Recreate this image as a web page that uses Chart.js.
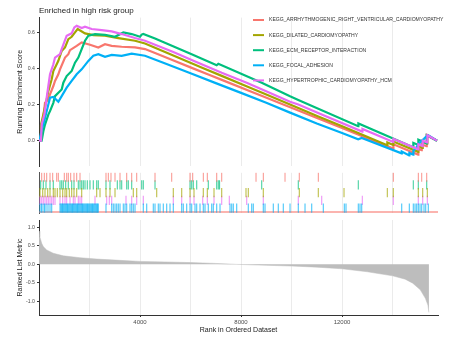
<!DOCTYPE html>
<html>
<head>
<meta charset="utf-8">
<title>Enriched in high risk group</title>
<script src="https://cdn.jsdelivr.net/npm/chart.js@4.4.1/dist/chart.umd.min.js"></script>
<style>
  html, body { margin: 0; padding: 0; background: #ffffff; }
  #wrap { position: relative; width: 449px; height: 341px; }
  canvas { position: absolute; left: 0; }
</style>
</head>
<body>
<div id="wrap">
  <canvas id="esChart" width="449" height="167" style="top:0px"></canvas>
  <canvas id="hitChart" width="449" height="52" style="top:167px"></canvas>
  <canvas id="metricChart" width="449" height="122" style="top:219px"></canvas>
</div>
<script>
const rankMax = 15800;
const gridRanks = [2000, 4000, 6000, 8000, 10000, 12000, 14000];
const esTicks = [0, 0.2, 0.4, 0.6];
const metricTicks = [-1, -0.5, 0, 0.5, 1];

const geneSets = [
  'KEGG_ARRHYTHMOGENIC_RIGHT_VENTRICULAR_CARDIOMYOPATHY',
  'KEGG_DILATED_CARDIOMYOPATHY',
  'KEGG_ECM_RECEPTOR_INTERACTION',
  'KEGG_FOCAL_ADHESION',
  'KEGG_HYPERTROPHIC_CARDIOMYOPATHY_HCM'
];
const setColors = ['#F8766D', '#A3A500', '#00BF7D', '#00B0F6', '#E76BF3'];
// row of each gene set in the hit strip (top to bottom)
const hitRows = [0, 2, 1, 4, 3];

// running enrichment score, [rank, score]
const esArvc = [[0, 0], [40, 0], [106, 0.052], [172, 0.126], [238, 0.209], [370, 0.228], [436, 0.256], [568, 0.302], [634, 0.33], [766, 0.367], [832, 0.394], [1030, 0.459], [1162, 0.478], [1228, 0.5], [1492, 0.524], [1690, 0.543], [2020, 0.53], [2350, 0.515], [2614, 0.533], [2878, 0.524], [3274, 0.519], [3802, 0.515], [4198, 0.506], [4594, 0.484], [5254, 0.447], [6000, 0.405], [6780, 0.362], [7240, 0.336], [8560, 0.262], [8910, 0.243], [9700, 0.198], [10270, 0.167], [11060, 0.122], [12000, 0.07], [13000, 0.014], [14028, -0.044], [14035, -0.02], [15015, -0.077], [15022, -0.045], [15150, -0.052], [15156, -0.02], [15348, -0.031], [15354, 0.03], [15760, 0]];
const esDcm = [[0, 0], [40, 0.015], [79, 0.089], [172, 0.144], [304, 0.228], [370, 0.274], [502, 0.339], [568, 0.385], [700, 0.422], [766, 0.441], [898, 0.496], [1030, 0.515], [1162, 0.561], [1294, 0.574], [1426, 0.598], [1531, 0.617], [1822, 0.593], [2152, 0.583], [2614, 0.58], [3142, 0.567], [3802, 0.552], [4198, 0.537], [5318, 0.47], [6506, 0.4], [7235, 0.358], [8288, 0.296], [8882, 0.262], [9941, 0.2], [11060, 0.134], [12078, 0.075], [13788, -0.025], [13795, -0.01], [14026, -0.024], [14034, -0.005], [15015, -0.062], [15021, -0.03], [15190, -0.04], [15196, -0.005], [15372, -0.015], [15380, 0.03], [15760, 0]];
const esEcm = [[0, 0], [106, 0], [172, 0.052], [238, 0.089], [370, 0.144], [436, 0.163], [568, 0.209], [634, 0.246], [898, 0.283], [964, 0.32], [1096, 0.357], [1294, 0.385], [1426, 0.431], [1558, 0.459], [1690, 0.506], [1822, 0.552], [1954, 0.58], [2218, 0.589], [2614, 0.585], [3010, 0.574], [3340, 0.598], [3670, 0.589], [4000, 0.574], [4067, 0.586], [4130, 0.59], [4594, 0.565], [6000, 0.48], [7037, 0.417], [7100, 0.425], [8819, 0.32], [9941, 0.245], [10268, 0.225], [12640, 0.08], [12648, 0.095], [14816, -0.036], [14824, -0.012], [15015, -0.024], [15022, 0.005], [15348, -0.015], [15355, 0.03], [15760, 0]];
const esFocal = [[0, 0], [40, 0.015], [106, 0.061], [172, 0.089], [304, 0.163], [436, 0.237], [568, 0.241], [766, 0.215], [898, 0.246], [1096, 0.293], [1294, 0.33], [1492, 0.367], [1690, 0.394], [1954, 0.441], [2152, 0.469], [2350, 0.478], [2614, 0.463], [2878, 0.474], [3274, 0.469], [3670, 0.481], [4198, 0.469], [5000, 0.426], [6000, 0.372], [7000, 0.318], [8000, 0.264], [9000, 0.21], [9941, 0.155], [11000, 0.095], [12000, 0.042], [12640, 0.008], [12780, 0.015], [14358, -0.07], [14366, -0.06], [14660, -0.082], [14668, -0.068], [14818, -0.077], [14826, -0.057], [14890, -0.045], [14957, -0.035], [15020, -0.02], [15088, -0.01], [15155, 0.0], [15246, 0.01], [15313, 0.02], [15416, 0.03], [15760, 0]];
const esHcm = [[0, 0], [79, 0], [106, 0.089], [211, 0.144], [304, 0.237], [370, 0.302], [436, 0.367], [568, 0.422], [634, 0.459], [832, 0.478], [898, 0.506], [1096, 0.58], [1294, 0.593], [1399, 0.626], [1492, 0.635], [1690, 0.622], [1822, 0.63], [2086, 0.617], [2482, 0.611], [2878, 0.604], [3274, 0.589], [3802, 0.567], [4198, 0.552], [5318, 0.49], [6138, 0.44], [7235, 0.375], [8225, 0.32], [8882, 0.28], [9941, 0.215], [10268, 0.2], [11195, 0.145], [12800, 0.05], [12808, 0.065], [14026, -0.007], [14034, 0.01], [15015, -0.048], [15021, -0.02], [15190, -0.03], [15196, 0.0], [15372, -0.01], [15380, 0.03], [15760, 0]];
const esSeries = [esArvc, esDcm, esEcm, esFocal, esHcm];

// ranks of the member genes of each set
const hitsArvc = [106, 211, 304, 436, 541, 700, 766, 1003, 1096, 1162, 1254, 1386, 1492, 1624, 2653, 2746, 2851, 3010, 3208, 3472, 3670, 3868, 4594, 5254, 5980, 6085, 6508, 6666, 7036, 7234, 8594, 8884, 9742, 10308, 11062, 14032, 15022, 15154, 15352];
const hitsDcm = [40, 147, 238, 345, 436, 566, 634, 725, 832, 939, 1030, 1097, 1200, 1295, 1386, 1493, 1691, 2285, 2416, 2653, 2812, 3010, 3734, 3869, 4661, 5318, 5651, 5980, 6138, 6506, 6665, 6930, 7235, 8197, 8288, 8882, 10308, 11060, 12078, 13793, 14030, 15020, 15194, 15377];
const hitsEcm = [67, 170, 277, 436, 566, 832, 899, 962, 1057, 1160, 1295, 1386, 1556, 1624, 1691, 1754, 1822, 1913, 2020, 2150, 2285, 2348, 2653, 2812, 3101, 3208, 3275, 3473, 3536, 3671, 4067, 4130, 4594, 5980, 6047, 6110, 6245, 6704, 7037, 7100, 7150, 8819, 10268, 12644, 14822, 15020, 15353];
const hitsFocal = [40, 99, 158, 218, 277, 356, 436, 503, 832, 866, 899, 930, 962, 996, 1030, 1063, 1097, 1128, 1160, 1194, 1228, 1262, 1295, 1326, 1358, 1392, 1426, 1460, 1493, 1524, 1556, 1590, 1624, 1658, 1691, 1722, 1754, 1788, 1822, 1856, 1889, 1920, 1952, 1986, 2020, 2054, 2087, 2118, 2150, 2184, 2218, 2252, 2285, 2316, 2348, 2653, 2879, 2942, 3010, 3077, 3140, 3208, 3338, 3406, 3473, 3604, 3671, 3734, 3802, 4130, 4265, 4526, 4594, 4724, 4792, 4922, 5057, 5188, 5318, 5651, 5714, 5849, 5980, 6047, 6178, 6245, 6376, 6506, 6574, 6704, 6839, 6902, 7037, 7168, 7564, 7631, 7694, 7829, 8288, 8423, 8486, 8882, 8950, 9278, 9476, 9674, 9940, 10268, 10534, 10799, 11258, 12090, 12157, 12644, 12712, 12779, 14363, 14664, 14822, 14890, 14957, 15020, 15088, 15155, 15246, 15313, 15416];
const hitsHcm = [40, 107, 170, 238, 305, 368, 436, 503, 566, 634, 832, 939, 1030, 1097, 1228, 1358, 1426, 1556, 1624, 1691, 2218, 2681, 2784, 2879, 3445, 3671, 3869, 4130, 5318, 5651, 5980, 6138, 6483, 6665, 6930, 7235, 7536, 8225, 8882, 10268, 11195, 12803, 14030, 15020, 15194, 15377];
const hitSeries = [hitsArvc, hitsDcm, hitsEcm, hitsFocal, hitsHcm];

// ranked list metric
const metricRank = [0, 30, 107, 170, 304, 566, 962, 1624, 2285, 3208, 4000, 5000, 6000, 7000, 7800, 9000, 10000, 11000, 12000, 13000, 14000, 14500, 14800, 15100, 15300, 15400, 15440];
const metricValue = [0.9, 0.75, 0.57, 0.48, 0.39, 0.3, 0.23, 0.18, 0.143, 0.108, 0.08, 0.065, 0.048, 0.025, 0, -0.025, -0.045, -0.075, -0.12, -0.2, -0.31, -0.4, -0.51, -0.69, -0.92, -1.1, -1.3];

Chart.defaults.font.family = '"Liberation Sans", Arial, Helvetica, sans-serif';
Chart.defaults.color = '#4d4d4d';

const AXIS_WIDTH = 39;

// keep every panel's plot area on the same left/right edges
function noLabelPadding(axis) {
  axis.paddingTop = 0;
  axis.paddingBottom = 0;
  axis.paddingLeft = 0;
  axis.paddingRight = 0;
}

function rankScale(height, showLabels) {
  return {
    type: 'linear',
    min: 0,
    max: rankMax,
    afterBuildTicks: (axis) => { axis.ticks = gridRanks.map(v => ({ value: v })); },
    afterFit: (axis) => { axis.height = height; noLabelPadding(axis); },
    grid: {
      color: '#ebebeb',
      lineWidth: 1,
      drawTicks: showLabels,
      tickLength: 2,
      tickColor: (c) => (c.tick && c.tick.value % 4000 === 0 ? '#333333' : 'rgba(0,0,0,0)')
    },
    border: { display: showLabels, color: '#333333', width: 1 },
    ticks: {
      display: showLabels,
      maxRotation: 0,
      autoSkip: false,
      padding: 2,
      font: { size: 6 },
      color: '#4d4d4d',
      callback: (v) => (v % 4000 === 0 ? String(v) : '')
    },
    title: {
      display: showLabels,
      text: 'Rank in Ordered Dataset',
      color: '#1a1a1a',
      font: { size: 7 },
      padding: { top: 0, bottom: 7 }
    }
  };
}

function valueScale(min, max, ticks, label) {
  return {
    min,
    max,
    afterBuildTicks: (axis) => { axis.ticks = ticks.map(v => ({ value: v })); },
    afterFit: (axis) => { axis.width = AXIS_WIDTH; noLabelPadding(axis); },
    grid: { drawOnChartArea: false, tickLength: 2, tickColor: '#333333' },
    border: { color: '#333333', width: 1 },
    ticks: { padding: 2, font: { size: 5.2 }, color: '#4d4d4d', callback: (v) => v.toFixed(1) },
    title: { display: true, text: label, color: '#1a1a1a', font: { size: 7 }, padding: { top: 16, bottom: 0 } }
  };
}

const setLegend = {
  id: 'setLegend',
  afterDraw(chart) {
    const ctx = chart.ctx;
    ctx.save();
    ctx.font = '5.1px "Liberation Sans", Arial, sans-serif';
    ctx.textBaseline = 'middle';
    chart.data.datasets.forEach((ds, i) => {
      const y = 20 + i * 15.1;
      ctx.strokeStyle = ds.borderColor;
      ctx.lineWidth = 2;
      ctx.beginPath();
      ctx.moveTo(253, y);
      ctx.lineTo(264, y);
      ctx.stroke();
      ctx.fillStyle = '#333333';
      ctx.fillText(ds.label, 269, y);
    });
    ctx.restore();
  }
};

const esChart = new Chart(document.getElementById('esChart'), {
  type: 'line',
  data: {
    datasets: geneSets.map((name, i) => ({
      label: name,
      data: esSeries[i].map(([x, y]) => ({ x, y })),
      borderColor: setColors[i],
      backgroundColor: 'transparent',
      borderWidth: 2.2,
      pointRadius: 0,
      tension: 0,
      fill: false,
      order: geneSets.length - 1 - i
    }))
  },
  options: {
    responsive: false,
    animation: false,
    events: [],
    layout: { padding: { left: 0, right: 11, top: 0, bottom: 0 } },
    scales: {
      x: rankScale(1, false),
      y: valueScale(-0.14, 0.68, esTicks, 'Running Enrichment Score')
    },
    plugins: {
      legend: { display: false },
      tooltip: { enabled: false },
      title: {
        display: true,
        text: 'Enriched in high risk group',
        align: 'start',
        fullSize: false,
        color: '#1a1a1a',
        font: { size: 8, weight: 'normal' },
        padding: { top: 6, bottom: 2 }
      }
    }
  },
  plugins: [setLegend]
});

const hitScale = valueScale(0, 5.2, [], '');
hitScale.reverse = true;
hitScale.ticks.display = false;
hitScale.grid.drawTicks = false;
hitScale.title.display = false;
hitScale.border.color = '#555555';

const hitChart = new Chart(document.getElementById('hitChart'), {
  type: 'scatter',
  data: {
    datasets: geneSets.map((name, i) => ({
      label: name,
      data: hitSeries[i].map(r => ({ x: r, y: hitRows[i] + 0.55 })),
      pointStyle: 'line',
      rotation: 90,
      radius: 4.7,
      borderWidth: 1.1,
      borderColor: setColors[i] + 'B8',
      backgroundColor: setColors[i]
    })).concat([{
      label: 'base',
      data: [{ x: 0, y: 5.05 }, { x: rankMax, y: 5.05 }],
      showLine: true,
      pointRadius: 0,
      borderWidth: 2,
      borderColor: 'rgba(248,118,109,0.55)'
    }])
  },
  options: {
    responsive: false,
    animation: false,
    events: [],
    layout: { padding: { left: 0, right: 11, top: 0, bottom: 0 } },
    scales: {
      x: rankScale(0, false),
      y: hitScale
    },
    plugins: { legend: { display: false }, tooltip: { enabled: false } }
  }
});

const metricChart = new Chart(document.getElementById('metricChart'), {
  type: 'line',
  data: {
    datasets: [{
      label: 'Ranked List Metric',
      data: metricRank.map((r, i) => ({ x: r, y: metricValue[i] })),
      borderColor: '#bdbdbd',
      backgroundColor: '#bdbdbd',
      borderWidth: 0.5,
      pointRadius: 0,
      tension: 0,
      fill: 'origin'
    }]
  },
  options: {
    responsive: false,
    animation: false,
    events: [],
    layout: { padding: { left: 0, right: 11, top: 1, bottom: 0 } },
    scales: {
      x: rankScale(26, true),
      y: valueScale(-1.37, 1.2, metricTicks, 'Ranked List Metric')
    },
    plugins: { legend: { display: false }, tooltip: { enabled: false } }
  }
});
</script>
</body>
</html>
